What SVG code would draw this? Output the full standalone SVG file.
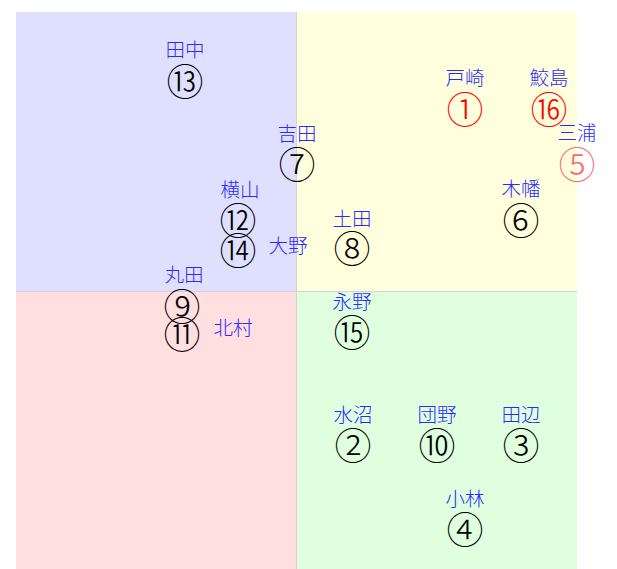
<svg xmlns="http://www.w3.org/2000/svg" width="617" height="569" viewBox="0 0 617 569">
<style>
.lbl{font-family:"Noto Sans CJK JP","Noto Sans",sans-serif;font-size:19.5px;font-weight:300;fill:#2a2aff;text-anchor:middle;dominant-baseline:central}
.num{font-family:"Noto Sans CJK JP",serif;font-size:37px;font-weight:300;fill:#000;text-anchor:middle;dominant-baseline:central}
.red{fill:#ff0000}
.pale{fill:#ff6a6a}
</style>
<rect width="617" height="569" fill="#fff"/>
<g id="quadrants">
<rect x="16" y="12" width="281" height="280" fill="#dfe0ff"/>
<rect x="297" y="12" width="280" height="280" fill="#ffffde"/>
<rect x="16" y="292" width="281" height="277" fill="#ffdfdf"/>
<rect x="297" y="292" width="280" height="277" fill="#dfffdf"/>
<line x1="16" y1="291.5" x2="577" y2="291.5" stroke="#d8cce0" stroke-width="1"/>
<line x1="296.5" y1="12" x2="296.5" y2="569" stroke="#d8d0d8" stroke-width="1"/>
</g>
<g id="connectors"/>
<g id="n13"><text class="lbl" x="185" y="48">田中</text><text class="num" x="185" y="80">⑬</text></g>
<g id="n7"><text class="lbl" x="297" y="132">吉田</text><text class="num" x="297" y="163">⑦</text></g>
<g id="n1"><text class="lbl" x="465" y="76">戸崎</text><text class="num red" x="465" y="108">①</text></g>
<g id="n16"><text class="lbl" x="549" y="76">鮫島</text><text class="num red" x="549" y="108">⑯</text></g>
<g id="n5"><text class="lbl" x="577" y="131">三浦</text><text class="num pale" x="577" y="163">⑤</text></g>
<g id="n6"><text class="lbl" x="521" y="187">木幡</text><text class="num" x="521" y="219">⑥</text></g>
<g id="n12"><text class="lbl" x="240" y="188">横山</text><text class="num" x="238" y="219">⑫</text></g>
<g id="n14"><text class="lbl" x="288" y="244">大野</text><text class="num" x="238" y="249">⑭</text></g>
<g id="n8"><text class="lbl" x="352" y="217">土田</text><text class="num" x="352" y="247">⑧</text></g>
<g id="n9"><text class="lbl" x="184" y="273">丸田</text><text class="num" x="182" y="305">⑨</text></g>
<g id="n11"><text class="lbl" x="233" y="326">北村</text><text class="num" x="182" y="333">⑪</text></g>
<g id="n15"><text class="lbl" x="352" y="300">永野</text><text class="num" x="352" y="331">⑮</text></g>
<g id="n2"><text class="lbl" x="353" y="413">水沼</text><text class="num" x="353" y="444">②</text></g>
<g id="n10"><text class="lbl" x="437" y="413">団野</text><text class="num" x="437" y="444">⑩</text></g>
<g id="n3"><text class="lbl" x="521" y="413">田辺</text><text class="num" x="521" y="444">③</text></g>
<g id="n4"><text class="lbl" x="465" y="497">小林</text><text class="num" x="465" y="528">④</text></g>
</svg>
